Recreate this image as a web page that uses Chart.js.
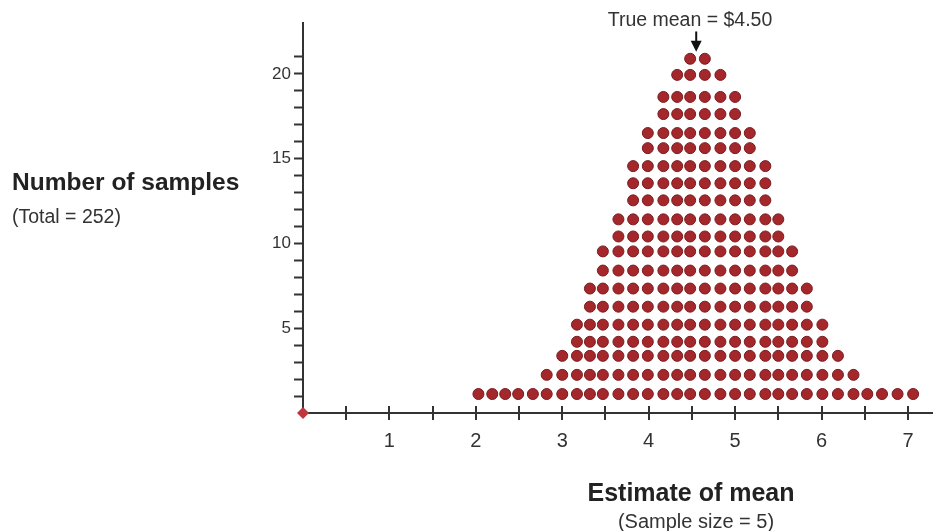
<!DOCTYPE html>
<html>
<head>
<meta charset="utf-8">
<script src="https://cdn.jsdelivr.net/npm/chart.js@4.4.1/dist/chart.umd.min.js"></script>
<style>
  html, body { margin: 0; padding: 0; background: #fff; }
  #wrap { position: relative; width: 933px; height: 531px; }
  #chart { position: absolute; left: 0; top: 0; }
  .lbl {
    position: absolute;
    font-family: "Liberation Sans", Arial, sans-serif;
    color: #222;
    white-space: nowrap;
    line-height: 1;
  }
  .bold { font-weight: bold; font-size: 25px; }
  .small { font-size: 20px; color: #333; }
  .center { transform: translateX(-50%); }
</style>
</head>
<body>
<div id="wrap">
  <canvas id="chart" width="933" height="531"></canvas>
  <div class="lbl small center" style="left:690px; top:10px; font-size:19.5px;">True mean = $4.50</div>
  <div class="lbl bold" style="left:12px; top:170px; font-size:24.5px;">Number of samples</div>
  <div class="lbl small" style="left:12px; top:207px; font-size:19.5px;">(Total = 252)</div>
  <div class="lbl bold center" style="left:691px; top:480px;">Estimate of mean</div>
  <div class="lbl small center" style="left:696px; top:511px;">(Sample size = 5)</div>
</div>
<script>
// ─── Datos ─────────────────────────────────────────────────

// posición (media estimada) de cada columna de puntos
const columnX = [
  2.03, 2.19, 2.34, 2.49, 2.66,
  2.82, 3.00, 3.17, 3.32, 3.47, 3.65, 3.82, 3.99, 4.17, 4.33, 4.48,
  4.65, 4.83, 5.00, 5.17, 5.35, 5.50, 5.66, 5.83, 6.01, 6.19, 6.37,
  6.53, 6.70, 6.88, 7.06,
];

// cantidad de puntos apilados en cada columna
const columnCount = [
  1, 1, 1, 1, 1,
  2, 3, 5, 7, 9, 11, 14, 16, 18, 19, 20,
  20, 19, 18, 16, 14, 11, 9, 7, 5, 3, 2,
  1, 1, 1, 1,
];

// altura a la que se dibuja cada fila de la pila (1ª fila abajo)
const rowLevel = [
  1.12, 2.25, 3.37, 4.20, 5.21, 6.27, 7.34, 8.40, 9.53, 10.41,
  11.42, 12.54, 13.55, 14.56, 15.62, 16.51, 17.63, 18.64, 19.94, 20.89,
];

const xTickValues = [0.5, 1, 1.5, 2, 2.5, 3, 3.5, 4, 4.5, 5, 5.5, 6, 6.5, 7];
const xTickLabels = ['1', '2', '3', '4', '5', '6', '7'];
const yTickValues = [1, 2, 3, 4, 5, 6, 7, 8, 9, 10, 11, 12, 13, 14, 15, 16, 17, 18, 19, 20, 21];
const yTickLabels = ['5', '10', '15', '20'];

// flecha de la media verdadera
const arrowX    = 4.55;
const arrowTail = 22.5;
const arrowTip  = 21.3;

const FONT = '"Liberation Sans", Arial, sans-serif';
const AXIS = '#333';

// ─── Puntos ────────────────────────────────────────────────

const dots = [];
columnX.forEach((x, i) => {
  for (let k = 0; k < columnCount[i]; k++) dots.push({ x, y: rowLevel[k] });
});

// marcas del eje x que cruzan la línea + flecha
const overlay = {
  id: 'overlay',
  beforeDatasetsDraw(chart) {
    const { ctx, chartArea } = chart;
    const xs = chart.scales.x;
    ctx.save();
    ctx.strokeStyle = AXIS;
    ctx.lineWidth = 2;
    xs.ticks.forEach(t => {
      const px = Math.round(xs.getPixelForValue(t.value));
      ctx.beginPath();
      ctx.moveTo(px, chartArea.bottom - 7);
      ctx.lineTo(px, chartArea.bottom + 7);
      ctx.stroke();
    });
    ctx.restore();
  },
  afterDraw(chart) {
    const { ctx } = chart;
    const { x, y } = chart.scales;
    const ax = x.getPixelForValue(arrowX);
    const y0 = y.getPixelForValue(arrowTail);
    const y1 = y.getPixelForValue(arrowTip);
    ctx.save();
    ctx.strokeStyle = '#111';
    ctx.fillStyle = '#111';
    ctx.lineWidth = 2;
    ctx.beginPath();
    ctx.moveTo(ax, y0);
    ctx.lineTo(ax, y1 - 8);
    ctx.stroke();
    ctx.beginPath();
    ctx.moveTo(ax - 5.5, y1 - 11);
    ctx.lineTo(ax + 5.5, y1 - 11);
    ctx.lineTo(ax, y1);
    ctx.closePath();
    ctx.fill();
    ctx.restore();
  },
};

new Chart(document.getElementById('chart'), {
  type: 'scatter',
  data: {
    datasets: [
      {
        data: dots,
        pointRadius: 5.5,
        pointHoverRadius: 5.5,
        backgroundColor: '#a3272b',
        borderColor: '#7a1c1f',
        borderWidth: 1,
        clip: false,
      },
      {
        data: [{ x: 0, y: 0 }],
        pointStyle: 'rectRot',
        pointRadius: 6,
        backgroundColor: '#c0363c',
        borderWidth: 0,
        clip: false,
      },
    ],
  },
  options: {
    responsive: false,
    animation: false,
    events: [],
    layout: { autoPadding: false, padding: { top: 23, right: 0, left: 0, bottom: 0 } },
    plugins: { legend: { display: false }, tooltip: { enabled: false } },
    scales: {
      x: {
        type: 'linear',
        min: 0,
        max: 7.29,
        afterBuildTicks: s => { s.ticks = xTickValues.map(v => ({ value: v })); },
        afterFit: s => { s.height = 118; s.paddingLeft = 0; s.paddingRight = 0; },
        ticks: {
          autoSkip: false,
          maxRotation: 0,
          padding: 16,
          color: AXIS,
          font: { family: FONT, size: 20 },
          callback: v => xTickLabels.includes(String(v)) ? String(v) : '',
        },
        grid: { drawOnChartArea: false, drawTicks: false },
        border: { color: AXIS, width: 2 },
      },
      y: {
        min: 0,
        max: 23,
        afterBuildTicks: s => { s.ticks = yTickValues.map(v => ({ value: v })); },
        afterFit: s => { s.width = 303; s.paddingTop = 0; s.paddingBottom = 0; },
        ticks: {
          autoSkip: false,
          padding: 3,
          color: AXIS,
          font: { family: FONT, size: 17 },
          callback: v => yTickLabels.includes(String(v)) ? String(v) : '',
        },
        grid: { drawOnChartArea: false, tickLength: 9, tickColor: AXIS, tickWidth: 2 },
        border: { color: AXIS, width: 2 },
      },
    },
  },
  plugins: [overlay],
});
</script>
</body>
</html>
